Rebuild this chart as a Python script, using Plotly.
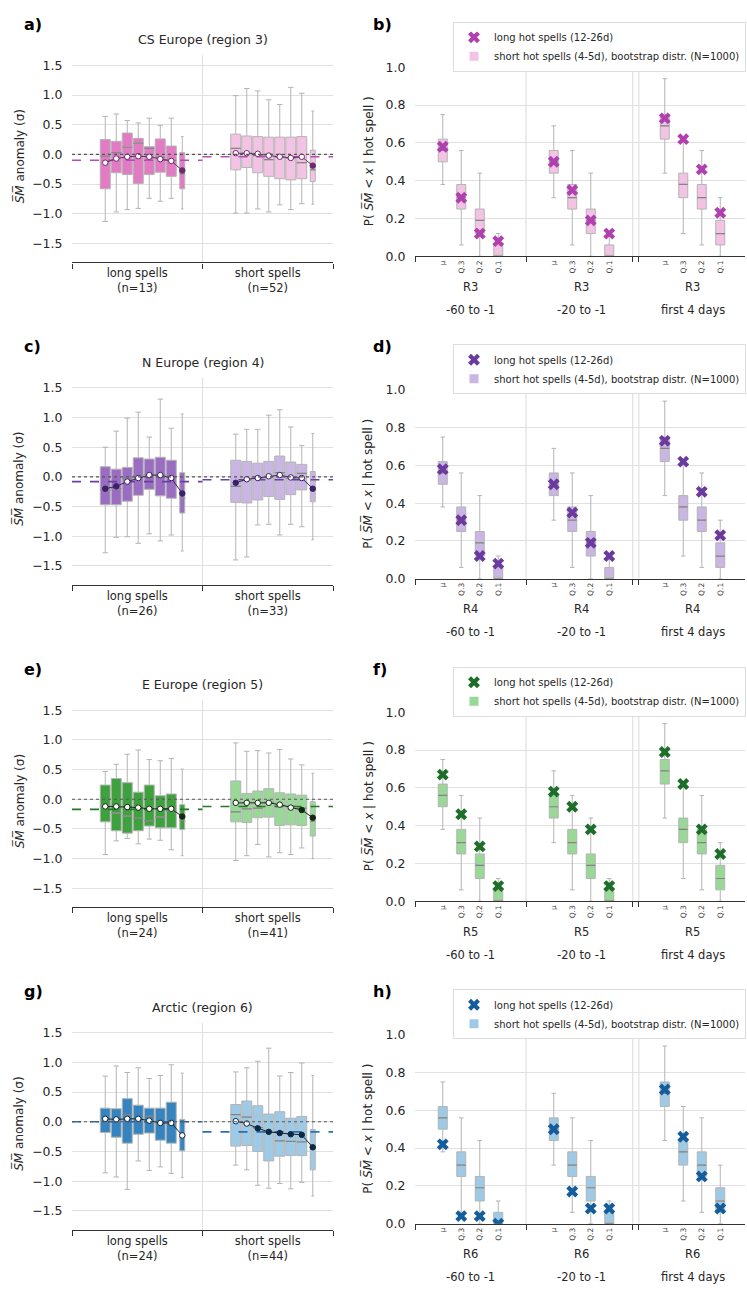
import plotly.graph_objects as go

# ------------------------------------------------------------------ data
REGION_NAMES = ["CS Europe (region 3)", "N Europe (region 4)", "E Europe (region 5)", "Arctic (region 6)"]
REGION_CODES = ["R3", "R4", "R5", "R6"]
PANEL_LEFT = ["a)", "c)", "e)", "g)"]
PANEL_RIGHT = ["b)", "d)", "f)", "h)"]
N_LONG = [13, 26, 24, 24]
N_SHORT = [52, 33, 41, 44]
WINDOW_LABELS = ["-60 to -1", "-20 to -1", "first 4 days"]
STAT_LABELS = ["μ", "Q.3", "Q.2", "Q.1"]
LEFT_TICKS = [-1.5, -1.0, -0.5, 0.0, 0.5, 1.0, 1.5]
RIGHT_TICKS = [0.0, 0.2, 0.4, 0.6, 0.8, 1.0]

# region 3 (CS Europe) - left panel box statistics
r3_long_hi = [0.64, 0.68, 0.57, 0.53, 0.61, 0.49, 0.61, 0.30]
r3_long_q3 = [0.25, 0.22, 0.36, 0.27, 0.13, 0.26, 0.14, 0.03]
r3_long_med = [-0.03, 0.03, 0.12, 0.19, 0.10, -0.05, -0.10, -0.33]
r3_long_q1 = [-0.58, -0.31, -0.34, -0.49, -0.34, -0.30, -0.37, -0.58]
r3_long_lo = [-1.13, -0.97, -0.93, -0.91, -0.74, -0.79, -0.74, -0.92]
r3_long_mean = [-0.14, -0.07, -0.04, -0.03, -0.04, -0.08, -0.11, -0.27]
r3_long_sig = [0, 0, 0, 0, 0, 0, 0, 1]
r3_short_hi = [0.99, 1.11, 1.07, 0.92, 0.84, 1.13, 1.03, 0.73]
r3_short_q3 = [0.34, 0.31, 0.30, 0.29, 0.29, 0.29, 0.30, 0.07]
r3_short_med = [0.10, 0.02, -0.02, -0.09, -0.04, -0.06, -0.14, -0.26]
r3_short_q1 = [-0.26, -0.22, -0.31, -0.37, -0.41, -0.43, -0.41, -0.46]
r3_short_lo = [-0.99, -0.99, -0.92, -0.97, -0.85, -0.93, -0.83, -0.84]
r3_short_mean = [0.02, 0.02, 0.01, -0.02, -0.04, -0.06, -0.04, -0.19]
r3_short_sig = [0, 0, 0, 0, 0, 0, 0, 1]
r3_levels = [-0.10, -0.04]

# region 4 (N Europe)
r4_long_hi = [0.50, 0.77, 0.99, 1.09, 0.67, 1.31, 0.82, 1.06]
r4_long_q3 = [0.17, 0.13, 0.16, 0.32, 0.30, 0.33, 0.28, 0.07]
r4_long_med = [-0.22, -0.20, -0.03, 0.02, 0.04, 0.03, 0.00, -0.36]
r4_long_q1 = [-0.47, -0.47, -0.41, -0.31, -0.21, -0.32, -0.36, -0.61]
r4_long_lo = [-1.28, -1.02, -1.01, -1.12, -0.96, -1.08, -0.98, -1.25]
r4_long_mean = [-0.20, -0.16, -0.08, -0.02, 0.03, 0.03, -0.02, -0.28]
r4_long_sig = [1, 1, 0, 0, 0, 0, 0, 1]
r4_short_hi = [0.72, 0.80, 0.80, 1.04, 1.13, 0.84, 0.53, 0.73]
r4_short_q3 = [0.28, 0.26, 0.23, 0.26, 0.35, 0.25, 0.21, 0.09]
r4_short_med = [-0.16, -0.05, -0.02, 0.00, 0.07, -0.02, 0.06, -0.20]
r4_short_q1 = [-0.43, -0.44, -0.39, -0.33, -0.38, -0.30, -0.22, -0.42]
r4_short_lo = [-1.40, -1.35, -0.81, -0.80, -0.98, -0.80, -0.84, -1.06]
r4_short_mean = [-0.10, -0.04, -0.02, 0.01, 0.03, -0.01, -0.02, -0.20]
r4_short_sig = [1, 0, 0, 0, 0, 0, 0, 1]
r4_levels = [-0.08, -0.05]

# region 5 (E Europe)
r5_long_hi = [0.47, 0.59, 0.76, 0.83, 0.67, 0.65, 0.69, 0.51]
r5_long_q3 = [0.24, 0.35, 0.28, 0.12, 0.24, 0.06, 0.09, -0.09]
r5_long_med = [-0.10, -0.23, -0.28, -0.32, -0.36, -0.30, -0.20, -0.35]
r5_long_q1 = [-0.38, -0.53, -0.57, -0.53, -0.45, -0.48, -0.48, -0.51]
r5_long_lo = [-0.93, -0.70, -0.66, -0.75, -0.67, -0.69, -0.85, -0.95]
r5_long_mean = [-0.12, -0.12, -0.13, -0.14, -0.16, -0.16, -0.16, -0.29]
r5_long_sig = [0, 0, 0, 0, 0, 0, 0, 1]
r5_short_hi = [0.95, 0.81, 0.82, 0.78, 0.84, 0.68, 0.58, 0.44]
r5_short_q3 = [0.31, 0.10, 0.14, 0.18, 0.11, 0.09, 0.07, -0.04]
r5_short_med = [-0.21, -0.16, -0.15, -0.05, -0.10, -0.12, -0.15, -0.37]
r5_short_q1 = [-0.38, -0.39, -0.31, -0.30, -0.44, -0.43, -0.44, -0.62]
r5_short_lo = [-1.03, -0.95, -0.76, -0.97, -0.90, -0.93, -0.82, -1.00]
r5_short_mean = [-0.06, -0.06, -0.06, -0.06, -0.09, -0.14, -0.18, -0.31]
r5_short_sig = [0, 0, 0, 0, 0, 0, 1, 1]
r5_levels = [-0.17, -0.12]

# region 6 (Arctic)
r6_long_hi = [0.77, 0.94, 0.83, 0.91, 0.73, 0.78, 0.96, 0.82]
r6_long_q3 = [0.23, 0.22, 0.39, 0.28, 0.23, 0.23, 0.33, 0.04]
r6_long_med = [0.03, 0.02, 0.12, 0.05, 0.09, 0.00, -0.02, -0.25]
r6_long_q1 = [-0.18, -0.26, -0.36, -0.21, -0.19, -0.31, -0.36, -0.49]
r6_long_lo = [-0.86, -0.93, -1.14, -0.66, -0.82, -0.76, -0.87, -0.94]
r6_long_mean = [0.05, 0.04, 0.05, 0.05, 0.02, -0.02, -0.02, -0.23]
r6_long_sig = [0, 0, 0, 0, 0, 0, 0, 0]
r6_short_hi = [0.84, 0.91, 1.02, 1.24, 0.77, 0.83, 0.99, 0.78]
r6_short_q3 = [0.29, 0.35, 0.27, 0.13, 0.17, 0.06, 0.09, -0.13]
r6_short_med = [0.12, 0.08, -0.10, -0.18, -0.32, -0.33, -0.34, -0.45]
r6_short_q1 = [-0.41, -0.40, -0.50, -0.66, -0.58, -0.57, -0.57, -0.81]
r6_short_lo = [-0.73, -0.81, -1.07, -1.12, -1.04, -1.13, -1.02, -1.25]
r6_short_mean = [0.01, -0.03, -0.11, -0.17, -0.19, -0.21, -0.22, -0.43]
r6_short_sig = [0, 0, 1, 1, 1, 1, 1, 1]
r6_levels = [0.0, -0.17]

# right panels: bootstrap distribution of short spells (per window: mu, Q.3, Q.2, Q.1)
boot_lo = [[0.38, 0.06, 0.00, 0.00], [0.31, 0.06, 0.00, 0.00], [0.44, 0.12, 0.06, 0.00]]
boot_q1 = [[0.50, 0.25, 0.12, 0.00], [0.44, 0.25, 0.12, 0.00], [0.62, 0.31, 0.25, 0.06]]
boot_med = [[0.56, 0.31, 0.19, 0.00], [0.50, 0.31, 0.19, 0.00], [0.69, 0.38, 0.31, 0.12]]
boot_q3 = [[0.62, 0.38, 0.25, 0.06], [0.56, 0.38, 0.25, 0.06], [0.75, 0.44, 0.38, 0.19]]
boot_hi = [[0.75, 0.56, 0.44, 0.12], [0.69, 0.56, 0.44, 0.12], [0.94, 0.62, 0.56, 0.31]]

# right panels: long hot spells (per window: mu, Q.3, Q.2, Q.1)
r3_cross = [[0.58, 0.31, 0.12, 0.08], [0.50, 0.35, 0.19, 0.12], [0.73, 0.62, 0.46, 0.23]]
r4_cross = [[0.58, 0.31, 0.12, 0.08], [0.50, 0.35, 0.19, 0.12], [0.73, 0.62, 0.46, 0.23]]
r5_cross = [[0.67, 0.46, 0.29, 0.08], [0.58, 0.50, 0.38, 0.08], [0.79, 0.62, 0.38, 0.25]]
r6_cross = [[0.42, 0.04, 0.04, 0.00], [0.50, 0.17, 0.08, 0.08], [0.71, 0.46, 0.25, 0.08]]

# ------------------------------------------------------------------ styling
COLORS = [
    dict(long="#e27bc4", short="#f2c3e3", mean="#6e2a6e", level="#b64cb6", cross="#b03fb0"),
    dict(long="#9a6cc2", short="#cab6e3", mean="#3b2266", level="#6b3ea6", cross="#6a3a9e"),
    dict(long="#3da23d", short="#99d897", mean="#132813", level="#227a22", cross="#1c6e28"),
    dict(long="#3584bf", short="#9fcae6", mean="#0c2740", level="#2a6fb0", cross="#135d9c"),
]
W, H = 747, 1291
ROW = 326
FONT = "DejaVu Sans"
TXT = "#262626"
GRID = "#e0e0e0"
SPINE = "#333333"
BOX_LINE = "#b4b4b4"
MED_LINE = "#858585"

LEFT_X = (72, 333)
RIGHT_X = (415, 745)
LEFT_UNIT_PX = (LEFT_X[1] - LEFT_X[0]) / 2.0
RIGHT_UNIT_PX = 18.5
LEFT_FIRST_PX, LEFT_STEP_PX = -32, 11
BOX_W = 10 / LEFT_UNIT_PX
NARROW_W = 5 / LEFT_UNIT_PX
RBOX_W = 9 / RIGHT_UNIT_PX
GROUP_STEP = 6
RIGHT_EDGES = [-1.5, 4.5, 10.27, 10.6]

REGIONS = []
for tag in ["r3", "r4", "r5", "r6"]:
    g = globals()
    REGIONS.append(dict(
        long=dict(hi=g[tag + "_long_hi"], q3=g[tag + "_long_q3"], med=g[tag + "_long_med"],
                  q1=g[tag + "_long_q1"], lo=g[tag + "_long_lo"], mean=g[tag + "_long_mean"],
                  sig=g[tag + "_long_sig"]),
        short=dict(hi=g[tag + "_short_hi"], q3=g[tag + "_short_q3"], med=g[tag + "_short_med"],
                   q1=g[tag + "_short_q1"], lo=g[tag + "_short_lo"], mean=g[tag + "_short_mean"],
                   sig=g[tag + "_short_sig"]),
        levels=g[tag + "_levels"], cross=g[tag + "_cross"]))


def sfx(n):
    return "" if n == 1 else str(n)


def ydom(top, bot):
    return [1 - bot / H, 1 - top / H]


fig = go.Figure()
layout = dict(width=W, height=H, margin=dict(l=0, r=0, t=0, b=0),
              paper_bgcolor="white", plot_bgcolor="white",
              font=dict(family=FONT, color=TXT), showlegend=True)
shapes, annotations = [], []
SM = "<i>S\u0305M\u0305</i>"

for i, R in enumerate(REGIONS):
    C = COLORS[i]
    a, b = 2 * i + 1, 2 * i + 2
    xl, yl, xr, yr = "x" + sfx(a), "y" + sfx(a), "x" + sfx(b), "y" + sfx(b)
    off = ROW * i
    legname = "legend" + sfx(i + 1)

    # ---------------- left panel
    for g, kind in enumerate(["long", "short"]):
        st = R[kind]
        fill = C[kind]
        pos = [g + (LEFT_FIRST_PX + LEFT_STEP_PX * k) / LEFT_UNIT_PX for k in range(8)]
        mx, my = [], []
        for k in range(8):
            w = NARROW_W if k == 7 else BOX_W
            fig.add_trace(go.Box(x=[pos[k]], q1=[st["q1"][k]], median=[st["med"][k]], q3=[st["q3"][k]],
                                 lowerfence=[st["lo"][k]], upperfence=[st["hi"][k]], orientation="v",
                                 width=w, whiskerwidth=0.55, fillcolor=fill,
                                 line=dict(color=BOX_LINE, width=1), boxpoints=False,
                                 showlegend=False, hoverinfo="skip", xaxis=xl, yaxis=yl))
            mx += [pos[k] - w / 2, pos[k] + w / 2, None]
            my += [st["med"][k], st["med"][k], None]
        fig.add_trace(go.Scatter(x=mx, y=my, mode="lines", line=dict(color=MED_LINE, width=1.2),
                                 showlegend=False, hoverinfo="skip", xaxis=xl, yaxis=yl))
        lv = R["levels"][g]
        fig.add_trace(go.Scatter(x=[g - 0.5, g + 0.5], y=[lv, lv], mode="lines",
                                 line=dict(color=C["level"], width=1.6, dash="dash"),
                                 showlegend=False, hoverinfo="skip", xaxis=xl, yaxis=yl))
        fig.add_trace(go.Scatter(x=pos, y=st["mean"], mode="lines+markers",
                                 line=dict(color=C["mean"], width=1),
                                 marker=dict(size=5.5, color=[C["mean"] if s else "white" for s in st["sig"]],
                                             line=dict(color=C["mean"], width=1)),
                                 showlegend=False, hoverinfo="skip", xaxis=xl, yaxis=yl))

    shapes.append(dict(type="line", xref=xl, yref=yl + " domain", x0=0.5, x1=0.5, y0=0, y1=1,
                       line=dict(color=GRID, width=1), layer="below"))
    shapes.append(dict(type="line", xref=xl + " domain", yref=yl, x0=0, x1=1, y0=0, y1=0,
                       line=dict(color="#555555", width=1.1, dash="dot"), layer="above"))

    ltop, lbot = 149 + off - 1.67 * 60, 149 + off + 1.82 * 60
    layout["xaxis" + sfx(a)] = dict(
        domain=[LEFT_X[0] / W, LEFT_X[1] / W], range=[-0.5, 1.5], anchor=yl,
        showgrid=False, zeroline=False, showline=True, linecolor=SPINE, linewidth=1.2,
        tickmode="array", tickvals=[0, 1],
        ticktext=["long spells<br>(n=%d)" % N_LONG[i], "short spells<br>(n=%d)" % N_SHORT[i]],
        ticks="", tickfont=dict(size=11.5, color=TXT),
        minor=dict(tickmode="array", tickvals=[-0.5, 0.5, 1.5], ticks="outside", ticklen=5,
                   tickwidth=1.2, tickcolor=SPINE, showgrid=False))
    layout["yaxis" + sfx(a)] = dict(
        domain=ydom(ltop, lbot), range=[-1.82, 1.67], anchor=xl,
        tickmode="array", tickvals=LEFT_TICKS, tickformat=".1f",
        showgrid=True, gridcolor=GRID, gridwidth=1, zeroline=False, showline=False,
        ticks="outside", ticklen=6, tickcolor="rgba(0,0,0,0)", tickfont=dict(size=12.5, color=TXT))

    # ---------------- right panel
    for g in range(3):
        pos = [GROUP_STEP * g + j for j in range(4)]
        mx, my = [], []
        for j in range(4):
            fig.add_trace(go.Box(x=[pos[j]], q1=[boot_q1[g][j]], median=[boot_med[g][j]], q3=[boot_q3[g][j]],
                                 lowerfence=[boot_lo[g][j]], upperfence=[boot_hi[g][j]], orientation="v",
                                 width=RBOX_W, whiskerwidth=0.5, fillcolor=C["short"],
                                 line=dict(color=BOX_LINE, width=1), boxpoints=False,
                                 showlegend=False, hoverinfo="skip", xaxis=xr, yaxis=yr))
            mx += [pos[j] - RBOX_W / 2, pos[j] + RBOX_W / 2, None]
            my += [boot_med[g][j], boot_med[g][j], None]
        fig.add_trace(go.Scatter(x=mx, y=my, mode="lines", line=dict(color=MED_LINE, width=1.2),
                                 showlegend=False, hoverinfo="skip", xaxis=xr, yaxis=yr))
    cx = [GROUP_STEP * g + j for g in range(3) for j in range(4)]
    cy = [R["cross"][g][j] for g in range(3) for j in range(4)]
    fig.add_trace(go.Scatter(x=cx, y=cy, mode="markers", name="long hot spells (12-26d)",
                             marker=dict(symbol="x", size=10.5, color=C["cross"], line=dict(width=0)),
                             legend=legname, hoverinfo="skip", xaxis=xr, yaxis=yr))
    fig.add_trace(go.Scatter(x=[None], y=[None], mode="markers",
                             name="short hot spells (4-5d), bootstrap distr. (N=1000)",
                             marker=dict(symbol="square", size=9, color=C["short"]),
                             legend=legname, hoverinfo="skip", xaxis=xr, yaxis=yr))

    for xv in RIGHT_EDGES[1:]:
        shapes.append(dict(type="line", xref=xr, yref=yr + " domain", x0=xv, x1=xv, y0=0, y1=1,
                           line=dict(color=GRID, width=1.2), layer="below"))

    rtop, rbot = 252 + off - 1.003 * 191, 252 + off
    layout["xaxis" + sfx(b)] = dict(
        domain=[RIGHT_X[0] / W, RIGHT_X[1] / W],
        range=[-1.5, -1.5 + (RIGHT_X[1] - RIGHT_X[0]) / RIGHT_UNIT_PX], anchor=yr,
        showgrid=False, zeroline=False, showline=True, linecolor=SPINE, linewidth=1.2,
        tickmode="array", tickvals=cx, ticktext=STAT_LABELS * 3, tickangle=-90,
        ticks="", tickfont=dict(size=7.5, color="#444444"),
        minor=dict(tickmode="array", tickvals=RIGHT_EDGES, ticks="outside", ticklen=5,
                   tickwidth=1.2, tickcolor=SPINE, showgrid=False))
    layout["yaxis" + sfx(b)] = dict(
        domain=ydom(rtop, rbot), range=[0, 1.003], anchor=xr,
        tickmode="array", tickvals=RIGHT_TICKS, tickformat=".1f",
        showgrid=True, gridcolor=GRID, gridwidth=1, zeroline=False, showline=False,
        ticks="outside", ticklen=6, tickcolor="rgba(0,0,0,0)", tickfont=dict(size=12.5, color=TXT))

    layout[legname] = dict(x=746 / W, xanchor="right", y=1 - (15 + off) / H, yanchor="top",
                           bgcolor="white", bordercolor="#dddddd", borderwidth=1,
                           font=dict(size=10, color=TXT), itemsizing="trace")

    # ---------------- texts
    annotations += [
        dict(text="<b>%s</b>" % PANEL_LEFT[i], x=22 / W, y=1 - (17.5 + off) / H, xref="paper", yref="paper",
             xanchor="left", yanchor="middle", showarrow=False, font=dict(size=16, color="black")),
        dict(text="<b>%s</b>" % PANEL_RIGHT[i], x=371 / W, y=1 - (17.5 + off) / H, xref="paper", yref="paper",
             xanchor="left", yanchor="middle", showarrow=False, font=dict(size=16, color="black")),
        dict(text=REGION_NAMES[i], x=202.5 / W, y=1 - (33 + off) / H, xref="paper", yref="paper",
             xanchor="center", yanchor="middle", showarrow=False, font=dict(size=12.5, color=TXT)),
        dict(text=SM + " anomaly (σ)", x=19 / W, y=1 - (151 + off) / H, xref="paper", yref="paper",
             xanchor="center", yanchor="middle", textangle=-90, showarrow=False,
             font=dict(size=12, color=TXT)),
        dict(text="P( " + SM + " < <i>x</i> | hot spell )", x=368 / W, y=1 - (156 + off) / H,
             xref="paper", yref="paper", xanchor="center", yanchor="middle", textangle=-90,
             showarrow=False, font=dict(size=12, color=TXT)),
    ]
    for g in range(3):
        annotations.append(dict(text=REGION_CODES[i], x=GROUP_STEP * g + 1.5, y=1 - (283 + off) / H,
                                xref=xr, yref="paper", xanchor="center", yanchor="middle",
                                showarrow=False, font=dict(size=11.5, color=TXT)))
        annotations.append(dict(text=WINDOW_LABELS[g], x=GROUP_STEP * g + 1.5, y=1 - (306 + off) / H,
                                xref=xr, yref="paper", xanchor="center", yanchor="middle",
                                showarrow=False, font=dict(size=11.5, color=TXT)))

layout["shapes"] = shapes
layout["annotations"] = annotations
fig.update_layout(**layout)
fig.write_html("out.html")
